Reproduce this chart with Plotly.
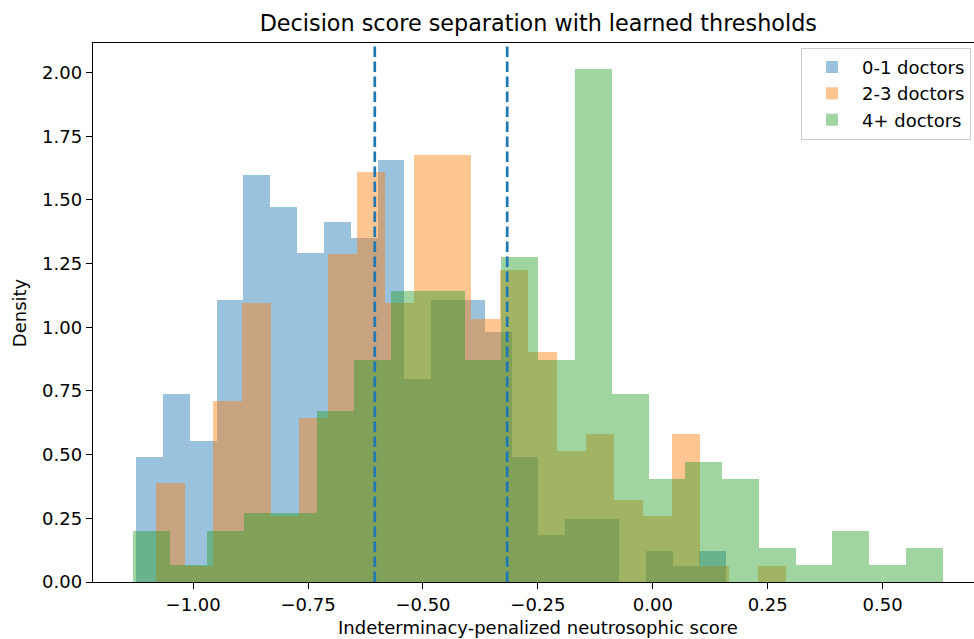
import numpy as np
import plotly.graph_objects as go

# ---------------- data ----------------
series_names = ["0-1 doctors", "2-3 doctors", "4+ doctors"]

# histogram bin ranges (22 bins each)
blue_range = (-1.1241, 0.1597)
orange_range = (-1.0805, 0.2903)
green_range = (-1.1299, 0.6310)

blue_density = [0.491, 0.737, 0.553, 1.106, 1.597, 1.474, 1.290, 1.413, 1.351, 1.658, 0.798,
                1.106, 1.106, 0.983, 0.491, 0.184, 0.246, 0.246, 0.0, 0.123, 0.061, 0.123]
orange_density = [0.387, 0.064, 0.709, 1.096, 0.258, 0.645, 1.289, 1.611, 1.096, 1.676, 1.676,
                  1.031, 1.225, 0.902, 0.516, 0.580, 0.322, 0.258, 0.580, 0.064, 0.0, 0.064]
green_density = [0.202, 0.067, 0.202, 0.269, 0.269, 0.672, 0.873, 1.142, 1.142, 0.873, 1.276,
                 0.873, 2.015, 0.739, 0.403, 0.470, 0.403, 0.134, 0.067, 0.202, 0.067, 0.134]

thresholds = [-0.6049, -0.3168]

x_ticks = [-1.0, -0.75, -0.5, -0.25, 0.0, 0.25, 0.5]
y_ticks = [0.0, 0.25, 0.5, 0.75, 1.0, 1.25, 1.5, 1.75, 2.0]

title_text = "Decision score separation with learned thresholds"
x_label = "Indeterminacy-penalized neutrosophic score"
y_label = "Density"

# ---------------- figure ----------------
FONT = "DejaVu Sans"
colors = ["rgba(31,119,180,0.45)", "rgba(255,127,14,0.45)", "rgba(44,160,44,0.45)"]

fig = go.Figure()
for name, rng, dens, col in zip(series_names,
                                [blue_range, orange_range, green_range],
                                [blue_density, orange_density, green_density],
                                colors):
    edges = np.linspace(rng[0], rng[1], len(dens) + 1)
    centers = (edges[:-1] + edges[1:]) / 2
    widths = np.diff(edges)
    fig.add_trace(go.Bar(
        x=centers, y=dens, width=widths, name=name,
        marker=dict(color=col, line=dict(width=0)),
    ))

for t in thresholds:
    fig.add_shape(type="line", x0=t, x1=t, y0=0, y1=1, xref="x", yref="paper",
                  line=dict(color="#1f77b4", width=2.7, dash="10.5px,4.5px"), layer="above")

W, H = 974, 639
ml, mr, mt, mb = 93, 0, 43, 57
plot_w = W - ml - mr
plot_h = H - mt - mb

fig.update_layout(
    width=W, height=H,
    margin=dict(l=ml, r=mr, t=mt, b=mb, pad=0),
    barmode="overlay", bargap=0,
    plot_bgcolor="white", paper_bgcolor="white",
    font=dict(family=FONT, size=18, color="black"),
    title=dict(text=title_text, x=538.3 / W, xref="container", xanchor="center",
               y=1 - 23 / H, yref="container", yanchor="middle",
               font=dict(family=FONT, size=22.3, color="black")),
    showlegend=True,
    legend=dict(x=(801 - ml) / plot_w, y=0.9913, xanchor="left", yanchor="top",
                bgcolor="rgba(255,255,255,0.8)", bordercolor="#cccccc", borderwidth=1,
                font=dict(family=FONT, size=18, color="black"), itemwidth=50,
                traceorder="normal"),
    xaxis=dict(range=[-1.2180, 0.6989], tickvals=x_ticks, tickformat=".2f",
               ticks="outside", ticklen=6, tickwidth=1.4, tickcolor="black",
               showline=True, linecolor="black", linewidth=1.4, mirror=True,
               showgrid=False, zeroline=False, tickfont=dict(size=18)),
    yaxis=dict(range=[0, 2.116], tickvals=y_ticks, tickformat=".2f",
               ticks="outside", ticklen=6, tickwidth=1.4, tickcolor="black",
               showline=True, linecolor="black", linewidth=1.4, mirror=False,
               showgrid=False, zeroline=False, tickfont=dict(size=18)),
)

fig.add_annotation(text=x_label, xref="paper", yref="paper",
                   x=(538.3 - ml) / plot_w, y=-(627 - (H - mb)) / plot_h,
                   xanchor="center", yanchor="middle", showarrow=False,
                   font=dict(family=FONT, size=18, color="black"))
fig.add_annotation(text=y_label, xref="paper", yref="paper",
                   x=(19.7 - ml) / plot_w, y=0.5, textangle=-90,
                   xanchor="center", yanchor="middle", showarrow=False,
                   font=dict(family=FONT, size=18, color="black"))

fig.write_html("out.html")
